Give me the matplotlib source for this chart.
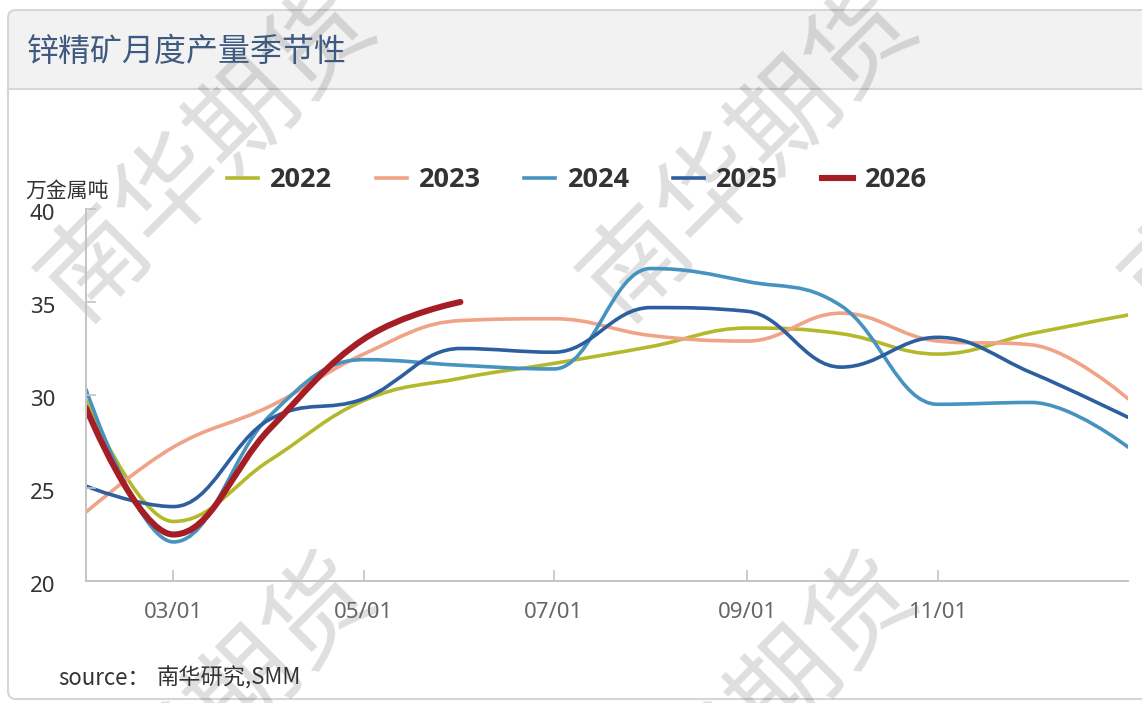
import matplotlib
matplotlib.use('Agg')
import matplotlib.pyplot as plt
import matplotlib.dates as mdates
import pandas as pd
from matplotlib.path import Path
from matplotlib.patches import PathPatch, FancyBboxPatch, Rectangle
from matplotlib.lines import Line2D
from matplotlib.transforms import IdentityTransform, ScaledTranslation

plt.rcParams['font.family'] = ['Noto Sans CJK SC', 'DejaVu Sans']

# monthly points, plotted on one reference year (02/01 .. next 01/01)
months = pd.date_range('2023-02-01', '2024-01-01', freq='MS')
years = ['2022', '2023', '2024', '2025', '2026']
y2022 = [29.7, 23.2, 26.5, 29.7, 30.9, 31.7, 32.6, 33.6, 33.3, 32.2, 33.3, 34.3]
y2023 = [23.7, 27.2, 29.4, 32.2, 34.0, 34.1, 33.2, 32.9, 34.4, 32.9, 32.7, 29.8]
y2024 = [30.3, 22.1, 28.9, 31.9, 31.6, 31.4, 36.8, 36.1, 34.8, 29.5, 29.6, 27.2]
y2025 = [25.1, 24.0, 28.7, 29.8, 32.5, 32.3, 34.7, 34.5, 31.5, 33.1, 31.2, 28.8]
y2026 = [29.3, 22.5, 28.2, 33.0, 35.0]
xtick_dates = ['2023-03-01', '2023-05-01', '2023-07-01', '2023-09-01', '2023-11-01']
yticks = [20, 25, 30, 35, 40]

colors = ['#b4b92c', '#f0a386', '#4793c0', '#2d5fa0', '#a61e25']
widths = [2.6, 2.6, 2.6, 2.6, 4.4]


def spline_path(xs, ys, smoothing=1.5):
    # highcharts-like spline: bezier control points, no false extremes
    n = len(xs)
    lc = [None] * n
    rc = [None] * n
    d = smoothing + 1
    for i in range(1, n - 1):
        px, py = xs[i], ys[i]
        lx, ly = xs[i - 1], ys[i - 1]
        nx, ny = xs[i + 1], ys[i + 1]
        lcx = (smoothing * px + lx) / d
        lcy = (smoothing * py + ly) / d
        rcx = (smoothing * px + nx) / d
        rcy = (smoothing * py + ny) / d
        if rcx != lcx:
            corr = (rcy - lcy) * (rcx - px) / (rcx - lcx) + py - rcy
            lcy += corr
            rcy += corr
        if lcy > ly and lcy > py:
            lcy = max(ly, py)
            rcy = 2 * py - lcy
        elif lcy < ly and lcy < py:
            lcy = min(ly, py)
            rcy = 2 * py - lcy
        if rcy > ny and rcy > py:
            rcy = max(ny, py)
            lcy = 2 * py - rcy
        elif rcy < ny and rcy < py:
            rcy = min(ny, py)
            lcy = 2 * py - rcy
        lc[i] = (lcx, lcy)
        rc[i] = (rcx, rcy)
    verts = [(xs[0], ys[0])]
    codes = [Path.MOVETO]
    for i in range(1, n):
        c1 = rc[i - 1] if rc[i - 1] is not None else (xs[i - 1], ys[i - 1])
        c2 = lc[i] if lc[i] is not None else (xs[i], ys[i])
        verts += [c1, c2, (xs[i], ys[i])]
        codes += [Path.CURVE4] * 3
    return Path(verts, codes)


fig = plt.figure(figsize=(11.42, 7.03), dpi=100)
W, H = 1142, 703

# panel + header
px = IdentityTransform()
fig.add_artist(FancyBboxPatch((8, 4), 1250, 689, boxstyle='round,pad=0,rounding_size=8',
                              facecolor='white', edgecolor='none', transform=px, zorder=-6))
fig.add_artist(FancyBboxPatch((8, 614), 1250, 79, boxstyle='round,pad=0,rounding_size=8',
                              facecolor='#f2f2f2', edgecolor='none', transform=px, zorder=-5))
fig.add_artist(Rectangle((8, 614), 1250, 20, facecolor='#f2f2f2', edgecolor='none',
                         transform=px, zorder=-5))
fig.add_artist(FancyBboxPatch((8, 4), 1250, 689, boxstyle='round,pad=0,rounding_size=8',
                              facecolor='none', edgecolor='#d6d6d6', lw=1.5, transform=px, zorder=-4))
fig.add_artist(Line2D([8, 1142], [614, 614], color='#d6d6d6', lw=1.5, transform=px, zorder=-4))

# watermark
for cx, cy in [(208, 152), (750, 152), (1292, 152), (208, 722), (750, 722)]:
    fig.text(cx / W, 1 - cy / H, '南华期货', fontsize=76, rotation=45, color='black', alpha=0.13,
             ha='center', va='center', rotation_mode='anchor', zorder=-3)

fig.text(27 / W, 1 - 52 / H, '锌精矿月度产量季节性', fontsize=23, color='#3e5a80', va='center')

ax = fig.add_axes([86 / W, 1 - 581 / H, (1128 - 86) / W, (581 - 209) / H])
ax.set_facecolor('none')
ax.set_zorder(1)

xnum = mdates.date2num(months)
series = [y2022, y2023, y2024, y2025, y2026]
for vals, c, lw in zip(series, colors, widths):
    path = spline_path(list(xnum[:len(vals)]), vals)
    ax.add_patch(PathPatch(path, facecolor='none', edgecolor=c, lw=lw, capstyle='round',
                           joinstyle='round'))

ax.set_xlim(xnum[0], xnum[-1])
ax.set_ylim(20, 40)
ax.set_yticks(yticks)
ax.set_xticks(mdates.date2num(pd.to_datetime(xtick_dates)))
ax.xaxis.set_major_formatter(mdates.DateFormatter('%m/%d'))
for s in ['top', 'right']:
    ax.spines[s].set_visible(False)
for s in ['left', 'bottom']:
    ax.spines[s].set_color('#c4c4c4')
    ax.spines[s].set_linewidth(1.4)
ax.tick_params(axis='y', direction='in', length=7, width=1.2, color='#c4c4c4', pad=22,
               labelsize=16, labelcolor='#333333')
ax.tick_params(axis='x', direction='in', length=8, width=1.2, color='#c4c4c4', pad=15,
               labelsize=16, labelcolor='#666666')
shift = ScaledTranslation(0, -3 / 100, fig.dpi_scale_trans)
for lab in ax.get_yticklabels():
    lab.set_transform(lab.get_transform() + shift)
for lab in ax.get_xticklabels() + ax.get_yticklabels():
    lab.set_family(['Noto Sans', 'DejaVu Sans'])

fig.text(25 / W, 1 - 191 / H, '万金属吨', fontsize=15, color='#333333', va='center')

handles = [Line2D([], [], color=c, lw=lw) for c, lw in zip(colors, widths)]
fig.legend(handles, years, ncol=5, loc='center', bbox_to_anchor=(577 / W, 1 - 180 / H),
           frameon=False, prop={'family': ['Open Sans', 'DejaVu Sans'], 'weight': 'bold', 'size': 19.5},
           handlelength=1.15, handletextpad=0.45, columnspacing=1.6, labelcolor='#333333')

fig.text(58 / W, 1 - 678 / H, 'source：', fontsize=16, color='#333333', va='center')
fig.text(157 / W, 1 - 678 / H, '南华研究,SMM', fontsize=16, color='#333333', va='center',
         style='italic')

fig.savefig('out.png', dpi=100)
